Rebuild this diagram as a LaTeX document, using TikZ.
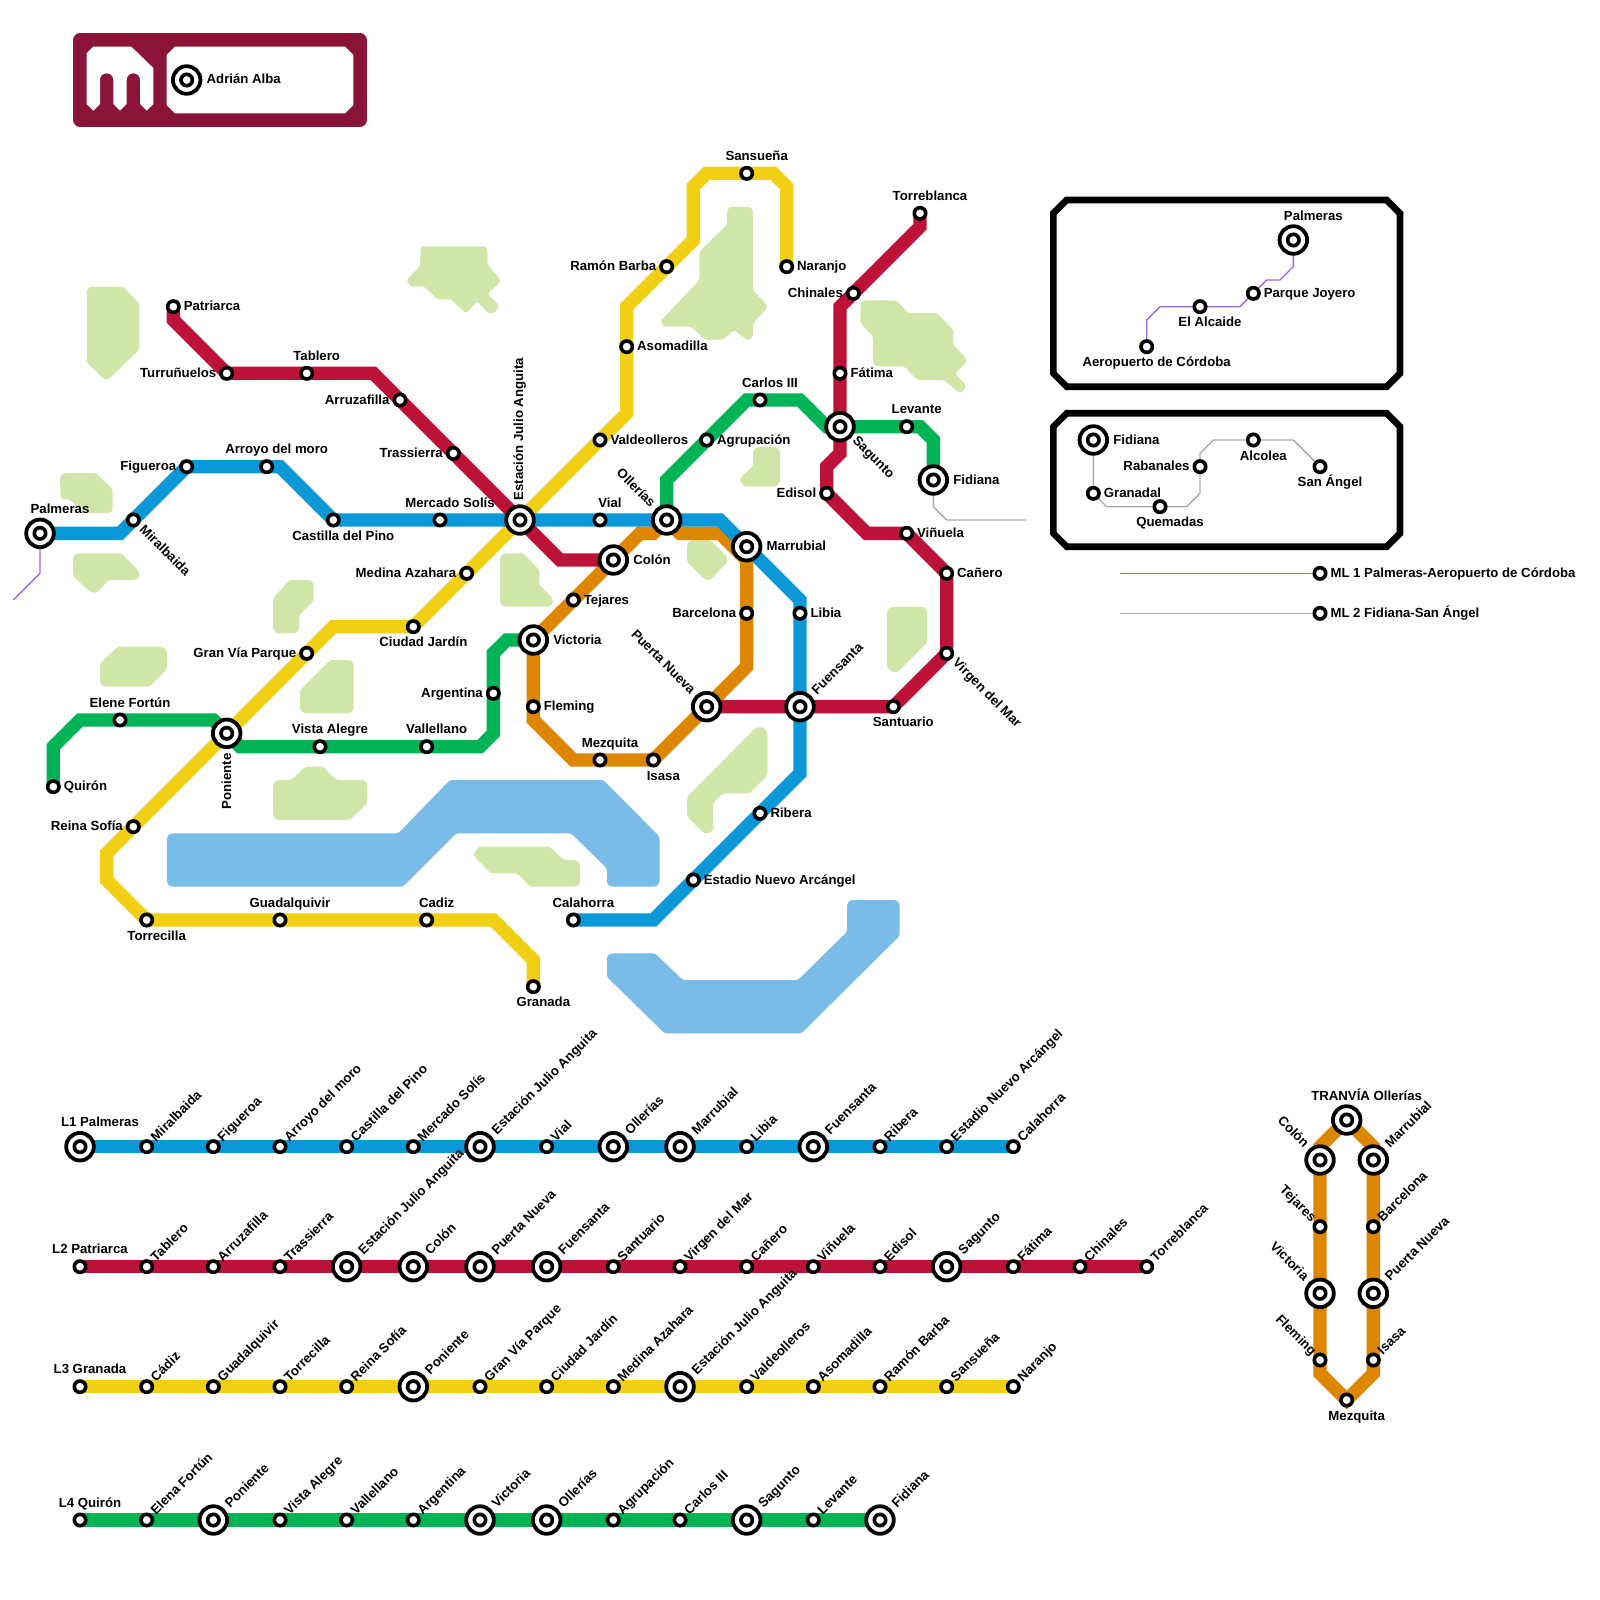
\documentclass[tikz,border=0pt]{standalone}
\usepackage{fontspec}
\setmainfont{Liberation Sans}
\definecolor{lblue}{HTML}{0A98D9}
\definecolor{lred}{HTML}{BC1238}
\definecolor{lyellow}{HTML}{F0CF14}
\definecolor{lgreen}{HTML}{00B355}
\definecolor{lorange}{HTML}{DE8600}
\definecolor{maroon}{HTML}{8A1538}
\definecolor{parkc}{HTML}{D0E6A9}
\definecolor{waterc}{HTML}{7ABCE8}
\definecolor{mlone}{HTML}{9966EE}
\definecolor{mltwo}{HTML}{AAAAAA}
\pgfdeclarelayer{bg}
\pgfsetlayers{bg,main}
\tikzset{
  thick line/.style={line width=13.33pt},
  lineblue/.style={thick line,draw=lblue},
  linered/.style={thick line,draw=lred},
  lineyellow/.style={thick line,draw=lyellow},
  linegreen/.style={thick line,draw=lgreen},
  lineorange/.style={thick line,draw=lorange},
  thinone/.style={line width=1.33pt,draw=mlone},
  thintwo/.style={line width=1.33pt,draw=mltwo},
  park/.style={fill=parkc,rounded corners=2.5pt},
  water/.style={fill=waterc,rounded corners=2.5pt},
  smallstn/.style={circle,draw=black,fill=white,line width=3.6pt,minimum size=11.4pt,inner sep=0pt,outer sep=0pt},
  bigstn/.style={circle,draw=black,fill=white,line width=3.8pt,minimum size=27.6pt,inner sep=0pt,outer sep=0pt},
  insetbox/.style={draw=black,line width=6.67pt},
  lbl/.style={inner sep=0pt,outer sep=0pt,font=\fontsize{13.2pt}{15pt}\selectfont\bfseries,text=black},
}
\newcommand{\stS}[3]{\node[smallstn] (#1) at (#2,#3) {};}
\newcommand{\stB}[3]{\node[bigstn] (#1) at (#2,#3) {};\node[smallstn] (#1c) at (#2,#3) {};}
\newcommand{\lbX}[6]{\node[lbl,anchor=#4,shift={(#2,#3)},rotate=#5] (lbl#1) at (#1.center) {#6};}
\newcommand{\lbR}[2]{\lbX{#1}{10.5}{4.2}{base west}{0}{#2}}
\newcommand{\lbRb}[2]{\lbX{#1}{20}{4.2}{base west}{0}{#2}}
\newcommand{\lbL}[2]{\lbX{#1}{-10.5}{4.2}{base east}{0}{#2}}
\newcommand{\lbA}[2]{\lbX{#1}{10}{-12.8}{base}{0}{#2}}
\newcommand{\lbAb}[2]{\lbX{#1}{20}{-19.8}{base}{0}{#2}}
\newcommand{\lbB}[2]{\lbX{#1}{10}{20.1}{base}{0}{#2}}
\newcommand{\lbU}[2]{\lbX{#1}{9.5}{-4.5}{base west}{45}{#2}}
\newcommand{\lbUb}[2]{\lbX{#1}{17}{-11.5}{base west}{45}{#2}}
\newcommand{\lbD}[2]{\lbX{#1}{5.5}{10.5}{base west}{-45}{#2}}
\newcommand{\lbDb}[2]{\lbX{#1}{12}{15}{base west}{-45}{#2}}
\newcommand{\lbDe}[2]{\lbX{#1}{-9}{-4}{base east}{-45}{#2}}
\newcommand{\lbDeb}[2]{\lbX{#1}{-16.5}{-12}{base east}{-45}{#2}}
\newcommand{\stripS}[4]{\stS{#1}{#2}{#3}\lbU{#1}{#4}}
\newcommand{\stripB}[4]{\stB{#1}{#2}{#3}\lbUb{#1}{#4}}
\begin{document}
\begin{tikzpicture}[x=1pt,y=-1pt]
\useasboundingbox (0,0) rectangle (1600,1600);
% ---------- logo
\fill[draw=maroon,fill=maroon,line width=13.33pt,line join=round] (80,40) rectangle (360,120);
\fill[white] (86.67,53.33) -- (93.33,46.67) -- (131.33,46.67) -- (153.33,68) -- (153.33,104) -- (146.67,110.67) -- (140,104) -- (140,80) .. controls (140,71.1) and (126.67,71.1) .. (126.67,80) -- (126.67,104) -- (120,110.67) -- (113.33,104) -- (113.33,80) .. controls (113.33,71.1) and (100,71.1) .. (100,80) -- (100,104) -- (93.33,110.67) -- (86.67,104) -- cycle;
\fill[white] (166.67,55) -- (175,46.67) -- (345,46.67) -- (353.33,55) -- (353.33,105) -- (345,113.33) -- (175,113.33) -- (166.67,105) -- cycle;
\stB{alba}{186.67}{80}
\lbX{alba}{20}{3.8}{base west}{0}{Adrián Alba}
% ---------- inset frames
\draw[insetbox] (1066.67,200) -- (1386.67,200) -- (1400,213.33) -- (1400,373.33) -- (1386.67,386.67) -- (1066.67,386.67) -- (1053.33,373.33) -- (1053.33,213.33) -- cycle;
\draw[insetbox] (1066.67,413.33) -- (1386.67,413.33) -- (1400,426.67) -- (1400,533.33) -- (1386.67,546.67) -- (1066.67,546.67) -- (1053.33,533.33) -- (1053.33,426.67) -- cycle;
% ---------- main map stations
\stB{palmeras}{40}{533.33}
\stS{miralbaida}{133.33}{520}
\stS{figueroa}{186.67}{466.67}
\stS{arroyo}{266.67}{466.67}
\stS{castilla}{333.33}{520}
\stS{mercado}{440}{520}
\stB{estacion}{520}{520}
\stS{vial}{600}{520}
\stB{ollerias}{666.67}{520}
\stB{marrubial}{746.67}{546.67}
\stS{libia}{800}{613.33}
\stB{fuensanta}{800}{706.67}
\stS{ribera}{760}{813.33}
\stS{estadio}{693.33}{880}
\stS{calahorra}{573.33}{920}
\stS{patriarca}{173.33}{306.67}
\stS{turrunuelos}{226.67}{373.33}
\stS{tablero}{306.67}{373.33}
\stS{arruzafilla}{400}{400}
\stS{trassierra}{453.33}{453.33}
\stB{colon}{613.33}{560}
\stB{pnueva}{706.67}{706.67}
\stS{santuario}{893.33}{706.67}
\stS{virgen}{946.67}{653.33}
\stS{canero}{946.67}{573.33}
\stS{vinuela}{906.67}{533.33}
\stS{edisol}{826.67}{493.33}
\stB{sagunto}{840}{426.67}
\stS{fatima}{840}{373.33}
\stS{chinales}{853.33}{293.33}
\stS{torreblanca}{920}{213.33}
\stS{granada}{533.33}{986.67}
\stS{cadiz}{426.67}{920}
\stS{guadalquivir}{280}{920}
\stS{torrecilla}{146.67}{920}
\stS{reina}{133.33}{826.67}
\stB{poniente}{226.67}{733.33}
\stS{granvia}{306.67}{653.33}
\stS{ciudad}{413.33}{626.67}
\stS{medina}{466.67}{573.33}
\stS{valdeolleros}{600}{440}
\stS{asomadilla}{626.67}{346.67}
\stS{ramon}{666.67}{266.67}
\stS{sansuena}{746.67}{173.33}
\stS{naranjo}{786.67}{266.67}
\stS{quiron}{53.33}{786.67}
\stS{elene}{120}{720}
\stS{vista}{320}{746.67}
\stS{vallellano}{426.67}{746.67}
\stS{argentina}{493.33}{693.33}
\stB{victoria}{533.33}{640}
\stS{agrupacion}{706.67}{440}
\stS{carlos}{760}{400}
\stS{levante}{906.67}{426.67}
\stB{fidiana}{933.33}{480}
\stS{tejares}{573.33}{600}
\stS{fleming}{533.33}{706.67}
\stS{mezquita}{600}{760}
\stS{isasa}{653.33}{760}
\stS{barcelona}{746.67}{613.33}
% labels main map
\lbAb{palmeras}{Palmeras}
\lbD{miralbaida}{Miralbaida}
\lbL{figueroa}{Figueroa}
\lbA{arroyo}{Arroyo del moro}
\lbB{castilla}{Castilla del Pino}
\lbA{mercado}{Mercado Solís}
\lbX{estacion}{3.2}{-19.7}{base west}{90}{Estación Julio Anguita}
\lbA{vial}{Vial}
\lbDeb{ollerias}{Ollerías}
\lbRb{marrubial}{Marrubial}
\lbR{libia}{Libia}
\lbUb{fuensanta}{Fuensanta}
\lbR{ribera}{Ribera}
\lbR{estadio}{Estadio Nuevo Arcángel}
\lbA{calahorra}{Calahorra}
\lbR{patriarca}{Patriarca}
\lbL{turrunuelos}{Turruñuelos}
\lbA{tablero}{Tablero}
\lbL{arruzafilla}{Arruzafilla}
\lbL{trassierra}{Trassierra}
\lbRb{colon}{Colón}
\lbDeb{pnueva}{Puerta Nueva}
\lbB{santuario}{Santuario}
\lbD{virgen}{Virgen del Mar}
\lbR{canero}{Cañero}
\lbR{vinuela}{Viñuela}
\lbL{edisol}{Edisol}
\lbDb{sagunto}{Sagunto}
\lbR{fatima}{Fátima}
\lbL{chinales}{Chinales}
\lbA{torreblanca}{Torreblanca}
\lbB{granada}{Granada}
\lbA{cadiz}{Cadiz}
\lbA{guadalquivir}{Guadalquivir}
\lbB{torrecilla}{Torrecilla}
\lbL{reina}{Reina Sofía}
\lbX{poniente}{4.4}{20}{base east}{90}{Poniente}
\lbL{granvia}{Gran Vía Parque}
\lbB{ciudad}{Ciudad Jardín}
\lbL{medina}{Medina Azahara}
\lbR{valdeolleros}{Valdeolleros}
\lbR{asomadilla}{Asomadilla}
\lbL{ramon}{Ramón Barba}
\lbA{sansuena}{Sansueña}
\lbR{naranjo}{Naranjo}
\lbR{quiron}{Quirón}
\lbA{elene}{Elene Fortún}
\lbA{vista}{Vista Alegre}
\lbA{vallellano}{Vallellano}
\lbL{argentina}{Argentina}
\lbRb{victoria}{Victoria}
\lbR{agrupacion}{Agrupación}
\lbA{carlos}{Carlos III}
\lbA{levante}{Levante}
\lbRb{fidiana}{Fidiana}
\lbR{tejares}{Tejares}
\lbR{fleming}{Fleming}
\lbA{mezquita}{Mezquita}
\lbB{isasa}{Isasa}
\lbL{barcelona}{Barcelona}
% ---------- inset 1
\stB{ipalmeras}{1293.33}{240}
\stS{ijoyero}{1253.33}{293.33}
\stS{ialcaide}{1200}{306.67}
\stS{iaero}{1146.67}{346.67}
\lbAb{ipalmeras}{Palmeras}
\lbR{ijoyero}{Parque Joyero}
\lbB{ialcaide}{El Alcaide}
\lbB{iaero}{Aeropuerto de Córdoba}
% ---------- inset 2
\stB{ifidiana}{1093.33}{440}
\stS{igranadal}{1093.33}{493.33}
\stS{iquemadas}{1160}{506.67}
\stS{irabanales}{1200}{466.67}
\stS{ialcolea}{1253.33}{440}
\stS{iangel}{1320}{466.67}
\lbRb{ifidiana}{Fidiana}
\lbR{igranadal}{Granadal}
\lbB{iquemadas}{Quemadas}
\lbL{irabanales}{Rabanales}
\lbB{ialcolea}{Alcolea}
\lbB{iangel}{San Ángel}
% ---------- legend of thin lines
\coordinate (mlstartone) at (1120,573.33);
\coordinate (mlstarttwo) at (1120,613.33);
\stS{mlone}{1320}{573.33}
\stS{mltwo}{1320}{613.33}
\lbR{mlone}{ML 1 Palmeras-Aeropuerto de Córdoba}
\lbR{mltwo}{ML 2 Fidiana-San Ángel}
% ---------- strip L1
\stB{aa}{80}{1146.67}\lbAb{aa}{L1 Palmeras}
\stripS{ab}{146.67}{1146.67}{Miralbaida}
\stripS{ac}{213.33}{1146.67}{Figueroa}
\stripS{ad}{280}{1146.67}{Arroyo del moro}
\stripS{ae}{346.67}{1146.67}{Castilla del Pino}
\stripS{af}{413.33}{1146.67}{Mercado Solís}
\stripB{ag}{480}{1146.67}{Estación Julio Anguita}
\stripS{ah}{546.67}{1146.67}{Vial}
\stripB{ai}{613.33}{1146.67}{Ollerías}
\stripB{aj}{680}{1146.67}{Marrubial}
\stripS{ak}{746.67}{1146.67}{Libia}
\stripB{al}{813.33}{1146.67}{Fuensanta}
\stripS{am}{880}{1146.67}{Ribera}
\stripS{an}{946.67}{1146.67}{Estadio Nuevo Arcángel}
\stripS{ao}{1013.33}{1146.67}{Calahorra}
% ---------- strip L2
\stS{ba}{80}{1266.67}\lbA{ba}{L2 Patriarca}
\stripS{bb}{146.67}{1266.67}{Tablero}
\stripS{bc}{213.33}{1266.67}{Arruzafilla}
\stripS{bd}{280}{1266.67}{Trassierra}
\stripB{be}{346.67}{1266.67}{Estación Julio Anguita}
\stripB{bf}{413.33}{1266.67}{Colón}
\stripB{bg}{480}{1266.67}{Puerta Nueva}
\stripB{bh}{546.67}{1266.67}{Fuensanta}
\stripS{bi}{613.33}{1266.67}{Santuario}
\stripS{bj}{680}{1266.67}{Virgen del Mar}
\stripS{bk}{746.67}{1266.67}{Cañero}
\stripS{bl}{813.33}{1266.67}{Viñuela}
\stripS{bm}{880}{1266.67}{Edisol}
\stripB{bn}{946.67}{1266.67}{Sagunto}
\stripS{bo}{1013.33}{1266.67}{Fátima}
\stripS{bp}{1080}{1266.67}{Chinales}
\stripS{bq}{1146.67}{1266.67}{Torreblanca}
% ---------- strip L3
\stS{ca}{80}{1386.67}\lbA{ca}{L3 Granada}
\stripS{cb}{146.67}{1386.67}{Cádiz}
\stripS{cc}{213.33}{1386.67}{Guadalquivir}
\stripS{cd}{280}{1386.67}{Torrecilla}
\stripS{ce}{346.67}{1386.67}{Reina Sofía}
\stripB{cf}{413.33}{1386.67}{Poniente}
\stripS{cg}{480}{1386.67}{Gran Vía Parque}
\stripS{ch}{546.67}{1386.67}{Ciudad Jardín}
\stripS{ci}{613.33}{1386.67}{Medina Azahara}
\stripB{cj}{680}{1386.67}{Estación Julio Anguita}
\stripS{ck}{746.67}{1386.67}{Valdeolleros}
\stripS{cl}{813.33}{1386.67}{Asomadilla}
\stripS{cm}{880}{1386.67}{Ramón Barba}
\stripS{cn}{946.67}{1386.67}{Sansueña}
\stripS{co}{1013.33}{1386.67}{Naranjo}
% ---------- strip L4
\stS{da}{80}{1520}\lbA{da}{L4 Quirón}
\stripS{db}{146.67}{1520}{Elena Fortún}
\stripB{dc}{213.33}{1520}{Poniente}
\stripS{dd}{280}{1520}{Vista Alegre}
\stripS{de}{346.67}{1520}{Vallellano}
\stripS{df}{413.33}{1520}{Argentina}
\stripB{dg}{480}{1520}{Victoria}
\stripB{dh}{546.67}{1520}{Ollerías}
\stripS{di}{613.33}{1520}{Agrupación}
\stripS{dj}{680}{1520}{Carlos III}
\stripB{dk}{746.67}{1520}{Sagunto}
\stripS{dl}{813.33}{1520}{Levante}
\stripB{dm}{880}{1520}{Fidiana}
% ---------- tram ring
\stB{tolle}{1346.67}{1120}\lbAb{tolle}{TRANVÍA Ollerías}
\stB{tcolon}{1320}{1160}\lbDeb{tcolon}{Colón}
\stB{tmarr}{1373.33}{1160}\lbUb{tmarr}{Marrubial}
\stS{ttej}{1320}{1226.67}\lbDe{ttej}{Tejares}
\stS{tbarc}{1373.33}{1226.67}\lbU{tbarc}{Barcelona}
\stB{tvict}{1320}{1293.33}\lbDeb{tvict}{Victoria}
\stB{tpnue}{1373.33}{1293.33}\lbUb{tpnue}{Puerta Nueva}
\stS{tflem}{1320}{1360}\lbDe{tflem}{Fleming}
\stS{tisas}{1373.33}{1360}\lbU{tisas}{Isasa}
\stS{tmezq}{1346.67}{1400}\lbB{tmezq}{Mezquita}
% ---------- everything behind the stations
\begin{pgfonlayer}{bg}
% parks
\path[park] (90,286.8) -- (123.2,286.8) -- (139.3,303.6) -- (139.3,349.3) -- (108.9,379.3) -- (104.3,379.3) -- (86.8,362.5) -- (86.8,290) -- cycle;
\path[park] (421,246.4) -- (486,246.4) -- (487.5,250) -- (487.5,265) -- (500,278.6) -- (500,282) -- (487.5,293.9) -- (499.3,305.4) -- (494.6,313.2) -- (488.2,313.2) -- (477,301) -- (466.1,313.6) -- (450.7,299.3) -- (437.5,299.3) -- (424.3,286.4) -- (410.7,286.4) -- (406.4,280.4) -- (420,266) -- cycle;
\path[park] (63.6,473.2) -- (96.4,473.2) -- (112.5,489.3) -- (112.5,510.7) -- (109.6,513.2) -- (83.9,513.2) -- (69.6,499.3) -- (60.7,499.3) -- (60,477) -- cycle;
\path[park] (73.2,556.7) -- (76.8,553.3) -- (121.4,553.3) -- (139.3,571.7) -- (139.3,576.7) -- (135.7,580) -- (108.9,580) -- (96.4,592.7) -- (91,592.7) -- (73.2,576) -- cycle;
\path[park] (289.3,580) -- (310.7,580) -- (313.6,583.3) -- (313.6,600.7) -- (299.3,615) -- (299.3,630) -- (295.7,633.3) -- (276.8,633.3) -- (273.2,630) -- (273.2,598.3) -- cycle;
\path[park] (117.9,646.7) -- (162.5,646.7) -- (166.8,650) -- (166.8,670) -- (149.3,686.7) -- (103.6,686.7) -- (100,683.3) -- (100,663.3) -- cycle;
\path[park] (330.4,660) -- (350,660) -- (353.6,663.3) -- (353.6,710) -- (350,713.3) -- (303.6,713.3) -- (300,710) -- (300,690) -- cycle;
\path[park] (305.4,766.7) -- (323.2,766.7) -- (336.4,780) -- (363.6,780) -- (367.1,783.3) -- (367.1,803.3) -- (350,820) -- (276.8,820) -- (273.2,816.7) -- (273.2,783.3) -- (276.8,780) -- (291,780) -- cycle;
\path[park] (503.6,553.3) -- (523.2,553.3) -- (539.3,570) -- (539.3,585) -- (552.9,598.3) -- (552.9,603.3) -- (549.3,606.7) -- (503.6,606.7) -- (500,603.3) -- (500,556.7) -- cycle;
\path[park] (478.6,846.7) -- (549.6,846.7) -- (563.9,860) -- (576.4,860) -- (580,863.3) -- (580,883.3) -- (576.4,886.7) -- (530,886.7) -- (517.5,873.3) -- (490.7,873.3) -- (473.2,855) -- cycle;
\path[park] (767.5,731.7) -- (767.5,775) -- (749.6,793.3) -- (722.9,793.3) -- (713.2,802.7) -- (713.2,830) -- (708.6,833.3) -- (704.3,833.3) -- (687.1,816.7) -- (687.1,796.7) -- (755,728.3) -- (762,726.7) -- cycle;
\path[park] (727.1,210.4) -- (730,206.8) -- (749.6,206.8) -- (753.2,210.4) -- (753.2,290.7) -- (766.8,305) -- (766.8,308.6) -- (753.2,322.9) -- (753.2,336.4) -- (749.6,339.6) -- (746.1,339.6) -- (734.3,330) -- (722.9,339.6) -- (705,339.6) -- (690.7,326.4) -- (663.9,326.4) -- (660.4,321.1) -- (699.6,280) -- (699.6,251.4) -- (727.1,224.6) -- cycle;
\path[park] (860.4,303.2) -- (863.9,300.4) -- (896.1,300.4) -- (908.6,313.2) -- (937.1,313.2) -- (953.2,330) -- (953.2,344.3) -- (966.4,358.6) -- (966.4,362.1) -- (955,373.6) -- (966.4,385.4) -- (962.1,392.5) -- (958.6,392.5) -- (944.3,380) -- (917.5,380) -- (904.3,366.4) -- (876.4,366.4) -- (872.9,362.9) -- (872.9,336.4) -- (860.4,322.9) -- cycle;
\path[park] (756.8,447.1) -- (776.4,447.1) -- (780,450.7) -- (780,482.9) -- (776.4,486.4) -- (744.3,486.4) -- (740,481.8) -- (740,478.2) -- (753.2,465.7) -- (753.2,450.7) -- cycle;
\path[park] (690.7,540) -- (710.4,540) -- (727.1,556.8) -- (727.1,562.1) -- (710.4,580) -- (705,580) -- (687.1,562.1) -- (687.1,544.3) -- cycle;
\path[park] (890.7,606.8) -- (923.6,606.8) -- (927.1,610.4) -- (927.1,642.5) -- (897.9,672.1) -- (892.5,672.1) -- (887.1,667.5) -- (887.1,610.4) -- cycle;
% water
\path[water] (166.8,836.7) -- (170.4,833.3) -- (398.2,833.3) -- (450,780) -- (603.2,780) -- (659.6,836.7) -- (659.6,883.3) -- (656.1,886.7) -- (610.4,886.7) -- (606.8,883.3) -- (606.8,868.3) -- (571.1,833.3) -- (456.4,833.3) -- (402.9,886.7) -- (170.4,886.7) -- (166.8,883.3) -- cycle;
\path[water] (606.8,956.7) -- (610.4,953.3) -- (655,953.3) -- (682.9,980) -- (797.9,980) -- (847.1,931.7) -- (847.1,903.3) -- (850.7,900) -- (896.1,900) -- (899.6,903.3) -- (899.6,936) -- (801.4,1033.3) -- (664.6,1033.3) -- (606.8,976.7) -- cycle;
% thin lines
\draw[thinone] (palmeras.center) -- (40,573.33) -- (13.33,600);
\draw[thintwo] (fidiana.center) -- (933.33,506.67) -- (946.67,520) -- (1026.67,520);
\draw[thinone] (ipalmeras.center) -- (1293.33,266.67) -- (1280,280) -- (1266.67,280) -- (ijoyero.center) -- (1240,306.67) -- (ialcaide.center) -- (1160,306.67) -- (1146.67,320) -- (iaero.center);
\draw[thintwo] (ifidiana.center) -- (igranadal.center) -- (1106.67,506.67) -- (iquemadas.center) -- (1186.67,506.67) -- (1200,493.33) -- (irabanales.center) -- (1200,453.33) -- (1213.33,440) -- (ialcolea.center) -- (1293.33,440) -- (iangel.center);
\draw[thinone] (mlstartone) -- (mlone.center);
\draw[thintwo] (mlstarttwo) -- (mltwo.center);
% yellow
\draw[lineyellow] (granada.center) -- (533.33,960) -- (493.33,920) -- (cadiz.center) -- (guadalquivir.center) -- (torrecilla.center) -- (106.67,880) -- (106.67,853.33) -- (reina.center) -- (poniente.center) -- (granvia.center) -- (333.33,626.67) -- (ciudad.center) -- (medina.center) -- (estacion.center) -- (valdeolleros.center) -- (626.67,413.33) -- (asomadilla.center) -- (626.67,306.67) -- (ramon.center) -- (693.33,240) -- (693.33,186.67) -- (706.67,173.33) -- (sansuena.center) -- (773.33,173.33) -- (786.67,186.67) -- (naranjo.center);
% green
\draw[linegreen] (quiron.center) -- (53.33,746.67) -- (80,720) -- (elene.center) -- (213.33,720) -- (poniente.center) -- (240,746.67) -- (vista.center) -- (vallellano.center) -- (480,746.67) -- (493.33,733.33) -- (argentina.center) -- (493.33,653.33) -- (506.67,640) -- (victoria.center);
\draw[linegreen] (ollerias.center) -- (666.67,480) -- (agrupacion.center) -- (746.67,400) -- (carlos.center) -- (800,400) -- (826.67,426.67) -- (sagunto.center) -- (levante.center) -- (920,426.67) -- (933.33,440) -- (fidiana.center);
% orange
\draw[lineorange] (colon.center) -- (640,533.33) -- (653.33,533.33) -- (ollerias.center) -- (680,533.33) -- (720,533.33) -- (746.67,560) -- (barcelona.center) -- (746.67,666.67) -- (pnueva.center) -- (isasa.center) -- (mezquita.center) -- (573.33,760) -- (533.33,720) -- (fleming.center) -- (victoria.center) -- (tejares.center) -- (colon.center);
% blue
\draw[lineblue] (palmeras.center) -- (120,533.33) -- (miralbaida.center) -- (figueroa.center) -- (arroyo.center) -- (280,466.67) -- (castilla.center) -- (mercado.center) -- (estacion.center) -- (vial.center) -- (ollerias.center) -- (720,520) -- (marrubial.center) -- (800,600) -- (libia.center) -- (fuensanta.center) -- (800,773.33) -- (ribera.center) -- (estadio.center) -- (653.33,920) -- (calahorra.center);
% red
\draw[linered] (patriarca.center) -- (173.33,320) -- (turrunuelos.center) -- (tablero.center) -- (373.33,373.33) -- (arruzafilla.center) -- (trassierra.center) -- (estacion.center) -- (560,560) -- (colon.center);
\draw[linered] (pnueva.center) -- (fuensanta.center) -- (santuario.center) -- (virgen.center) -- (canero.center) -- (vinuela.center) -- (866.67,533.33) -- (edisol.center) -- (826.67,466.67) -- (840,453.33) -- (sagunto.center) -- (fatima.center) -- (840,306.67) -- (chinales.center) -- (920,226.67) -- (torreblanca.center);
% strips
\draw[lineblue] (aa.center) -- (ao.center);
\draw[linered] (ba.center) -- (bq.center);
\draw[lineyellow] (ca.center) -- (co.center);
\draw[linegreen] (da.center) -- (dm.center);
% tram
\draw[lineorange] (tolle.center) -- (1320,1146.67) -- (tcolon.center) -- (ttej.center) -- (tvict.center) -- (tflem.center) -- (1320,1373.33) -- (tmezq.center) -- (1373.33,1373.33) -- (tisas.center) -- (tpnue.center) -- (tbarc.center) -- (tmarr.center) -- (1373.33,1146.67) -- cycle;
\end{pgfonlayer}
\end{tikzpicture}
\end{document}
